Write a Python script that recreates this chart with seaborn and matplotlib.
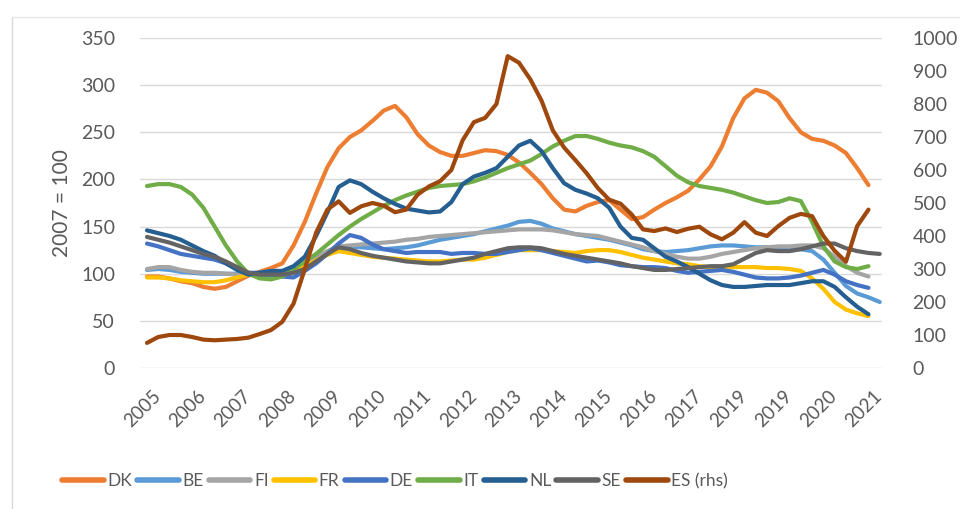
import numpy as np
import pandas as pd
import matplotlib
matplotlib.use("Agg")
import matplotlib.pyplot as plt
import matplotlib.transforms as mtransforms
from matplotlib.lines import Line2D
import seaborn as sns

# ---------------- data (quarterly index, 2007 = 100; ES on right axis) ----------------
quarters = list(range(66))
tick_pos = list(range(0, 65, 4))
tick_labels = ["2005", "2006", "2007", "2008", "2009", "2010", "2011", "2012", "2013",
               "2014", "2015", "2016", "2017", "2019", "2019", "2020", "2021"]

DK = [97, 97, 95, 92, 90, 86, 84, 86, 92, 98, 102, 106, 111, 130, 155, 185, 213, 233, 245, 252,
      262, 273, 278, 266, 248, 236, 229, 225, 225, 228, 231, 230, 226, 218, 207, 195, 180, 168, 166, 172,
      176, 178, 168, 158, 160, 168, 175, 181, 188, 200, 214, 235, 265, 286, 295, 292, 283, 265, 250, 243,
      241, 236, 228, 212, 194]
BE = [104, 105, 104, 102, 101, 100, 100, 100, 100, 100, 99, 98, 100, 104, 110, 117, 122, 127, 129, 128,
      127, 126, 127, 128, 130, 133, 136, 138, 140, 142, 145, 148, 151, 155, 156, 153, 148, 145, 142, 140,
      138, 136, 133, 130, 126, 124, 123, 124, 125, 127, 129, 130, 130, 129, 128, 128, 127, 127, 126, 124,
      115, 101, 87, 79, 75, 70]
FI = [105, 107, 107, 104, 102, 101, 101, 100, 99, 99, 100, 101, 102, 106, 112, 118, 124, 129, 130, 131,
      132, 133, 134, 136, 137, 139, 140, 141, 142, 143, 144, 145, 146, 147, 147, 147, 146, 144, 142, 141,
      140, 137, 134, 131, 128, 124, 121, 118, 116, 116, 118, 121, 123, 125, 127, 128, 129, 129, 130, 130,
      127, 118, 108, 101, 97]
FR = [96, 96, 95, 93, 92, 91, 91, 93, 96, 99, 100, 101, 101, 103, 108, 114, 120, 124, 122, 120,
      118, 117, 116, 115, 114, 113, 113, 114, 115, 115, 117, 120, 123, 125, 125, 125, 124, 123, 122, 124,
      125, 125, 123, 120, 117, 115, 113, 111, 110, 108, 107, 107, 107, 107, 107, 106, 106, 105, 103, 95,
      84, 70, 62, 58, 55]
DE = [132, 129, 125, 121, 119, 117, 115, 111, 105, 101, 101, 101, 97, 96, 103, 111, 121, 132, 141, 138,
      131, 126, 124, 122, 123, 123, 123, 121, 122, 122, 121, 121, 123, 125, 127, 125, 122, 119, 116, 113,
      114, 112, 109, 108, 107, 107, 106, 103, 101, 102, 103, 104, 102, 99, 96, 95, 95, 96, 98, 101,
      104, 99, 92, 88, 85]
IT = [193, 195, 195, 192, 184, 170, 150, 130, 113, 100, 95, 94, 97, 105, 113, 121, 131, 141, 150, 158,
      165, 172, 178, 183, 187, 191, 193, 194, 195, 198, 202, 207, 212, 216, 220, 227, 235, 241, 246, 246,
      243, 239, 236, 234, 230, 224, 214, 204, 197, 193, 191, 189, 186, 182, 178, 175, 176, 180, 177, 155,
      129, 113, 107, 105, 108]
NL = [146, 143, 140, 136, 130, 124, 119, 111, 104, 99, 101, 103, 103, 108, 118, 140, 165, 192, 199, 195,
      187, 180, 174, 169, 167, 165, 166, 176, 195, 203, 207, 212, 224, 236, 241, 230, 212, 196, 189, 185,
      180, 170, 150, 138, 136, 127, 118, 113, 107, 100, 93, 88, 86, 86, 87, 88, 88, 88, 90, 92,
      92, 86, 75, 65, 57]
SE = [139, 136, 133, 129, 125, 121, 118, 113, 107, 101, 99, 99, 99, 101, 105, 113, 121, 128, 126, 122,
      119, 117, 115, 113, 112, 111, 111, 113, 115, 117, 121, 124, 127, 128, 128, 127, 124, 121, 119, 117,
      115, 113, 111, 108, 106, 104, 104, 105, 106, 107, 108, 108, 110, 116, 122, 125, 124, 124, 126, 129,
      132, 132, 127, 124, 122, 121]
ES = [76, 94, 100, 100, 94, 86, 84, 86, 88, 92, 103, 115, 140, 195, 300, 410, 480, 505, 470, 490,
      500, 492, 472, 480, 525, 550, 566, 600, 690, 745, 758, 800, 945, 925, 875, 810, 720, 668, 630, 590,
      545, 510, 498, 465, 420, 415, 423, 412, 422, 428, 405, 390, 410, 442, 410, 400, 430, 455, 467, 460,
      400, 355, 322, 430, 480]

left_names = ["DK", "BE", "FI", "FR", "DE", "IT", "NL", "SE"]
left_values = [DK, BE, FI, FR, DE, IT, NL, SE]
colors = {"DK": "#ED7D31", "BE": "#5B9BD5", "FI": "#A5A5A5", "FR": "#FFC000",
          "DE": "#4472C4", "IT": "#70AD47", "NL": "#255E91", "SE": "#636363",
          "ES (rhs)": "#9E480E"}

rows = []
for name, vals in zip(left_names, left_values):
    for q, v in zip(quarters, vals):
        rows.append({"q": q, "value": v, "series": name})
df = pd.DataFrame(rows)
df_es = pd.DataFrame({"q": quarters[:len(ES)], "value": ES})

# ---------------- styling ----------------
sns.set_theme(style="white")
plt.rcParams["font.family"] = ["Lato", "DejaVu Sans"]
txt = "#595959"

W, H = 960, 509
fig = plt.figure(figsize=(W / 100, H / 100), dpi=100)
ax = fig.add_axes([140 / W, 1 - 368 / H, 742 / W, 330 / H])

sns.lineplot(data=df, x="q", y="value", hue="series", hue_order=left_names,
             palette=colors, linewidth=3.0, ax=ax, legend=False, sort=False)
ax2 = ax.twinx()
sns.lineplot(data=df_es, x="q", y="value", color=colors["ES (rhs)"], linewidth=3.0,
             ax=ax2, legend=False, sort=False)

for a in (ax, ax2):
    for s in a.spines.values():
        s.set_visible(False)
    a.set_xlabel("")
    a.set_ylabel("")
    a.tick_params(length=0, colors=txt, labelsize=14)

ax.set_xlim(-0.62, 65.2)
ax.set_ylim(0, 350)
ax.set_yticks(range(0, 351, 50))
ax2.set_ylim(0, 1000)
ax2.set_yticks(range(0, 1001, 100))
ax.tick_params(axis="y", pad=18)
ax2.tick_params(axis="y", pad=22)

ax.yaxis.grid(True, color="#D9D9D9", linewidth=1.0)
ax.xaxis.grid(False)
ax2.grid(False)
ax.set_axisbelow(True)

ax.set_xticks(tick_pos)
ax.set_xticklabels(tick_labels, rotation=45, ha="right", va="top",
                   rotation_mode="anchor", fontsize=13.5, color=txt)
ax.tick_params(axis="x", pad=14)
offset = mtransforms.ScaledTranslation(5 / 100, 0, fig.dpi_scale_trans)
for lab in ax.get_xticklabels():
    lab.set_transform(lab.get_transform() + offset)

fig.text(62 / W, 1 - 203 / H, "2007 = 100", rotation=90, ha="center", va="center",
         fontsize=15, color=txt)

# legend
handles = [Line2D([0], [0], color=colors[n], lw=4) for n in left_names + ["ES (rhs)"]]
fig.legend(handles, left_names + ["ES (rhs)"], loc="center",
           bbox_to_anchor=(395 / W, 1 - 481 / H), ncol=9, frameon=False,
           handlelength=2.4, handletextpad=0.2, columnspacing=0.3,
           fontsize=12.5, labelcolor=txt)

# chart frame (partial, as in the reference)
fig.add_artist(Line2D([12 / W, 12 / W], [0, 1 - 17 / H], transform=fig.transFigure,
                      color="#D9D9D9", lw=1))
fig.add_artist(Line2D([12 / W, 1], [1 - 17 / H, 1 - 17 / H], transform=fig.transFigure,
                      color="#E6E6E6", lw=1))

fig.savefig("out.png", dpi=100)
